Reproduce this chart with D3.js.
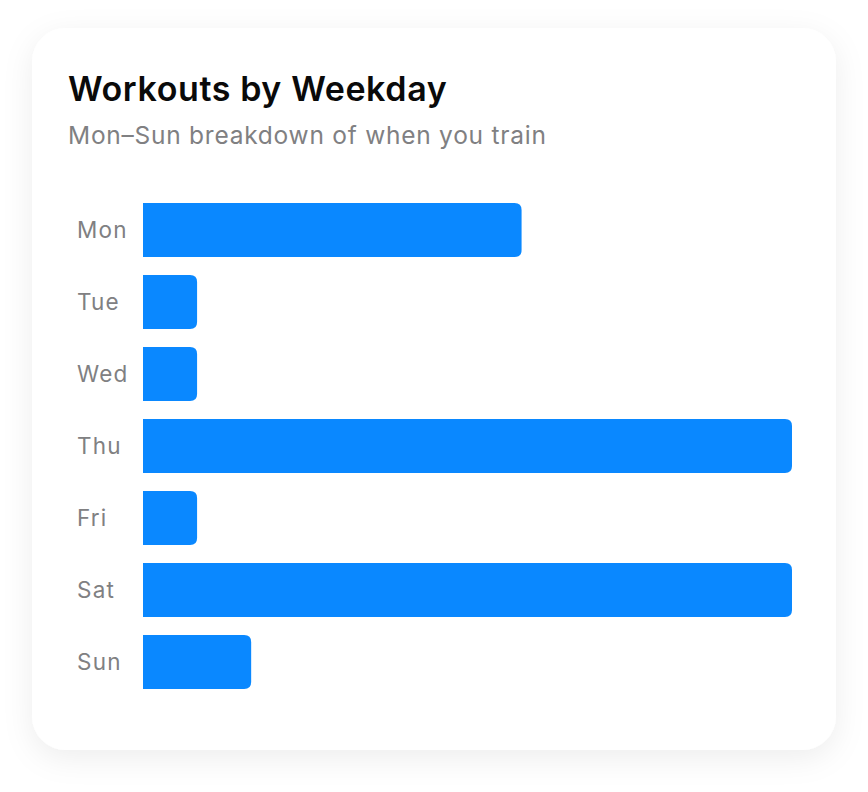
<!DOCTYPE html>
<html>
<head>
<meta charset="utf-8">
<script src="https://cdn.jsdelivr.net/npm/d3@7"></script>
<style>
  html, body { margin: 0; padding: 0; background: #ffffff; }
  svg { display: block; }
</style>
</head>
<body>
<div id="chart"></div>
<script>
// Workouts by weekday - horizontal bars in a rounded card

const days = ["Mon", "Tue", "Wed", "Thu", "Fri", "Sat", "Sun"];
const workouts = [7, 1, 1, 12, 1, 12, 2];

const width = 868, height = 792;
const card = { x: 32, y: 28, w: 804, h: 722, r: 34 };
const plot = { left: 143, right: 792, top: 194, bottom: 698 };
const fontFamily = "Inter, 'Open Sans', sans-serif";

const svg = d3.select("#chart")
  .append("svg")
  .attr("width", width)
  .attr("height", height);

// soft card shadow
const defs = svg.append("defs");
const shadow = defs.append("filter")
  .attr("id", "card-shadow")
  .attr("x", "-20%").attr("y", "-20%")
  .attr("width", "140%").attr("height", "140%");
shadow.append("feDropShadow")
  .attr("dx", 0).attr("dy", 8)
  .attr("stdDeviation", 15)
  .attr("flood-color", "#000")
  .attr("flood-opacity", 0.07);

svg.append("rect")
  .attr("x", card.x).attr("y", card.y)
  .attr("width", card.w).attr("height", card.h)
  .attr("rx", card.r)
  .attr("fill", "#fff")
  .attr("filter", "url(#card-shadow)");

// Title + subtitle
svg.append("text")
  .attr("x", 68).attr("y", 101)
  .style("font-family", fontFamily)
  .style("font-size", "34px")
  .style("font-weight", 600)
  .style("letter-spacing", "0.6px")
  .style("fill", "#0a0a0a")
  .text("Workouts by Weekday");

svg.append("text")
  .attr("x", 68).attr("y", 144)
  .style("font-family", fontFamily)
  .style("font-size", "24.5px")
  .style("letter-spacing", "0.75px")
  .style("fill", "#808082")
  .text("Mon–Sun breakdown of when you train");

// Scales
const y = d3.scaleBand()
  .domain(days)
  .range([plot.top, plot.bottom])
  .paddingInner(0.25)
  .paddingOuter(0.125);

const x = d3.scaleLinear()
  .domain([0, d3.max(workouts)])
  .range([plot.left, plot.right]);

const data = days.map((d, i) => ({ day: d, value: workouts[i] }));

// bar with only the right corners rounded
function barPath(d) {
  const x0 = x(0), x1 = x(d.value);
  const y0 = y(d.day), h = y.bandwidth();
  const r = Math.min(7, (x1 - x0) / 2, h / 2);
  return `M${x0},${y0}H${x1 - r}Q${x1},${y0} ${x1},${y0 + r}` +
    `V${y0 + h - r}Q${x1},${y0 + h} ${x1 - r},${y0 + h}H${x0}Z`;
}

svg.append("g")
  .selectAll("path")
  .data(data)
  .join("path")
  .attr("d", barPath)
  .attr("fill", "#0a88ff");

// Day labels (axis without lines)
const yAxis = svg.append("g")
  .attr("transform", `translate(77, 0)`)
  .call(d3.axisLeft(y).tickSize(0).tickPadding(0));

yAxis.select(".domain").remove();
yAxis.selectAll("text")
  .attr("text-anchor", "start")
  .attr("dy", "0.35em")
  .style("font-family", fontFamily)
  .style("font-size", "22.5px")
  .style("letter-spacing", "1.2px")
  .style("fill", "#808082");
</script>
</body>
</html>
